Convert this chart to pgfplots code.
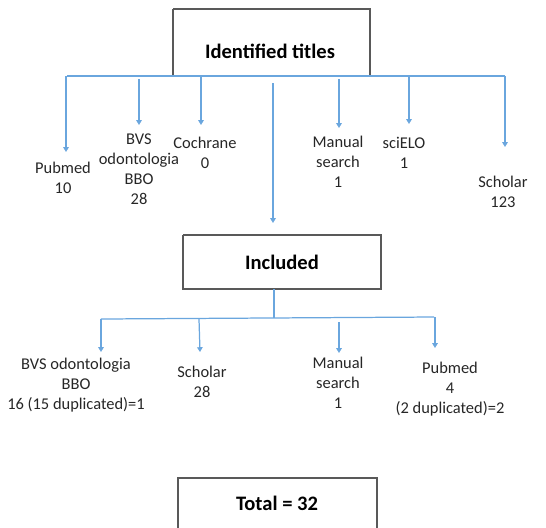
\documentclass[border=0pt]{standalone}
\usepackage{pgfplots}
\pgfplotsset{compat=1.18}
\usepackage{fontspec}
\setmainfont{Carlito}
\usetikzlibrary{arrows.meta}
\definecolor{lblue}{HTML}{6AA6DE}
\definecolor{bgray}{HTML}{595959}
\tikzset{
  lab/.style={font=\fontsize{12}{14.6}\selectfont, align=center, text=black!85, inner sep=0pt},
  ttl/.style={font=\fontsize{15}{18}\selectfont\bfseries, text=black, inner sep=0pt},
}
\pgfplotsset{
  conn/.style={lblue, line width=0.9pt, no markers},
  arr/.style={lblue, line width=0.9pt, no markers, -{Triangle[width=4pt,length=3.5pt]}},
  bx/.style={bgray, line width=1.2pt, no markers},
}
\begin{document}
\begin{tikzpicture}
\begin{axis}[
  scale only axis, width=14cm, height=13.513cm,
  xmin=0, xmax=546, ymin=0, ymax=527, y dir=reverse,
  hide axis,
]
\path (rel axis cs:0,0) rectangle (rel axis cs:1,1);
% boxes
\addplot[bx] coordinates {(173,9) (370,9) (370,76) (173,76) (173,9)};
\addplot[bx] coordinates {(183,235) (381,235) (381,289) (183,289) (183,235)};
\addplot[bx] coordinates {(178,540) (178,478) (377,478) (377,540)};
% top connectors
\addplot[conn] coordinates {(67,76) (505,76)};
\addplot[arr] coordinates {(66,76) (66,152)};
\addplot[arr] coordinates {(139,79) (139,125)};
\addplot[arr] coordinates {(201,76) (201,125)};
\addplot[arr] coordinates {(273,83) (273,223)};
\addplot[arr] coordinates {(339,79) (339,128)};
\addplot[arr] coordinates {(409,76) (409,124)};
\addplot[arr] coordinates {(505,76) (505,147)};
% bottom connectors
\addplot[conn] coordinates {(274,289) (274,318)};
\addplot[conn] coordinates {(101,319) (434,317)};
\addplot[arr] coordinates {(101,319) (101,352)};
\addplot[arr] coordinates {(199,319) (200,352)};
\addplot[arr] coordinates {(339,322) (339,353)};
\addplot[arr] coordinates {(435,317) (435,348)};
% titles
\node[ttl] at (axis cs:270,51) {Identified titles};
\node[ttl] at (axis cs:282,262) {Included};
\node[ttl] at (axis cs:277,503) {Total = 32};
% labels top
\node[lab] at (axis cs:63,177.5) {Pubmed\\10};
\node[lab] at (axis cs:139,169.5) {BVS\\odontologia\\BBO\\28};
\node[lab] at (axis cs:205,153) {Cochrane\\0};
\node[lab] at (axis cs:338,162) {Manual\\search\\1};
\node[lab] at (axis cs:404,153) {sciELO\\1};
\node[lab] at (axis cs:503,192) {Scholar\\123};
% labels bottom
\node[lab] at (axis cs:76,385) {BVS odontologia\\BBO\\16 (15 duplicated)=1};
\node[lab] at (axis cs:202,382) {Scholar\\28};
\node[lab] at (axis cs:338,383) {Manual\\search\\1};
\node[lab] at (axis cs:450,389) {Pubmed\\4\\(2 duplicated)=2};
\end{axis}
\end{tikzpicture}
\end{document}
